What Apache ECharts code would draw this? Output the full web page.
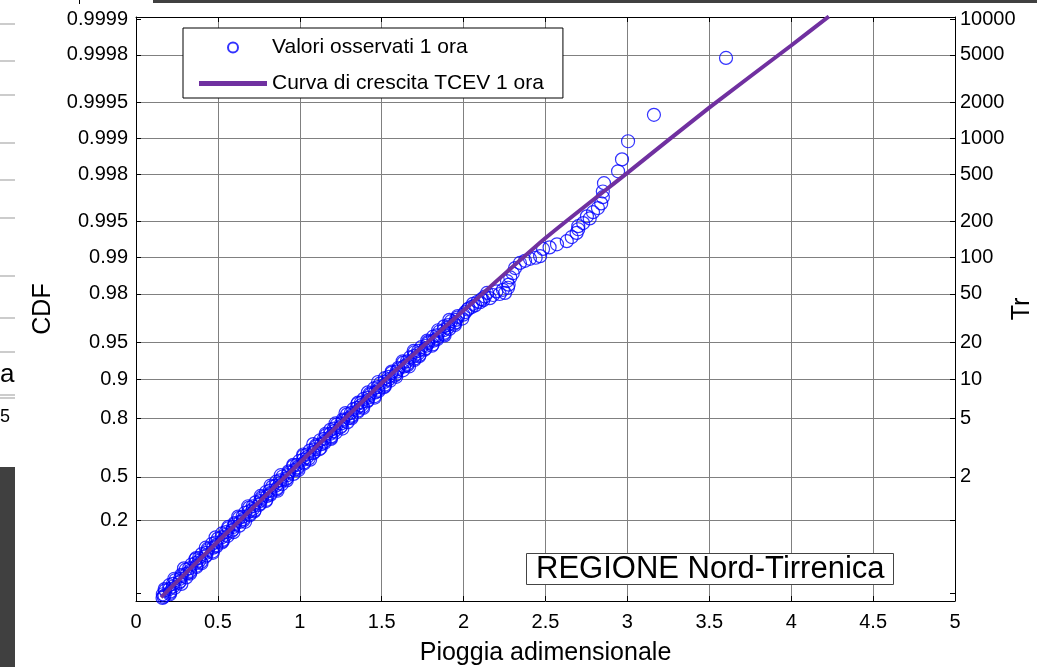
<!DOCTYPE html>
<html>
<head>
<meta charset="utf-8">
<title>TCEV Nord-Tirrenica</title>
<style>
  html, body { margin: 0; padding: 0; background: #fff; }
  #chart { width: 1037px; height: 667px; }
</style>
<script src="https://cdn.jsdelivr.net/npm/echarts@6.0.0/dist/echarts.min.js"></script>
</head>
<body>
<div id="chart"></div>
<script>
// tacche asse sinistro (CDF) e destro (Tr), stesse posizioni
var cdfTicks = [0.0015, 0.2, 0.5, 0.8, 0.9, 0.95, 0.98, 0.99, 0.995, 0.998, 0.999, 0.9995, 0.9998, 0.9999];
var cdfLabels = ['', '0.2', '0.5', '0.8', '0.9', '0.95', '0.98', '0.99', '0.995', '0.998', '0.999', '0.9995', '0.9998', '0.9999'];
var trLabels = ['', '', '2', '5', '10', '20', '50', '100', '200', '500', '1000', '2000', '5000', '10000'];
var gridCdf = [0.2, 0.5, 0.8, 0.9, 0.95, 0.98, 0.99, 0.995, 0.998, 0.999, 0.9995, 0.9998];

// curva di crescita TCEV: pioggia adimensionale / variabile ridotta di Gumbel
var tcevX = [0.153, 0.50, 1.00, 1.50, 2.00, 2.50, 3.00, 3.50, 4.00, 4.23];
var tcevY = [-1.96, -0.88, 0.64, 2.18, 3.58, 4.98, 6.24, 7.50, 8.70, 9.26];

var obsX = [
  0.162, 0.168, 0.164, 0.209, 0.203, 0.227, 0.225, 0.269, 0.269, 0.279, 0.311,
  0.329, 0.325, 0.369, 0.363, 0.387, 0.385, 0.429, 0.429, 0.439, 0.471,
  0.490, 0.486, 0.530, 0.524, 0.549, 0.548, 0.592, 0.593, 0.603, 0.636,
  0.654, 0.651, 0.695, 0.690, 0.715, 0.713, 0.758, 0.758, 0.769, 0.801,
  0.820, 0.816, 0.861, 0.855, 0.880, 0.879, 0.923, 0.924, 0.934, 0.967,
  0.985, 0.982, 1.027, 1.021, 1.045, 1.044, 1.088, 1.089, 1.099, 1.132,
  1.150, 1.147, 1.191, 1.186, 1.210, 1.208, 1.253, 1.253, 1.264, 1.296,
  1.315, 1.311, 1.356, 1.350, 1.374, 1.373, 1.417, 1.418, 1.428, 1.461,
  1.479, 1.476, 1.520, 1.516, 1.542, 1.542, 1.588, 1.591, 1.603, 1.637,
  1.657, 1.655, 1.701, 1.697, 1.723, 1.723, 1.769, 1.772, 1.784, 1.818,
  1.838, 1.836, 1.882, 1.878, 1.904, 1.905, 1.951, 1.953, 1.965, 1.999,
  2.010, 2.025, 2.050, 2.057, 2.085, 2.110, 2.130, 2.143, 2.180, 2.220,
  2.253, 2.271, 2.275, 2.265, 2.285, 2.300, 2.314, 2.344, 2.375, 2.405,
  2.440, 2.467, 2.485, 2.525, 2.570, 2.630, 2.660, 2.690, 2.700, 2.700,
  2.730, 2.770, 2.753, 2.790, 2.820, 2.840, 2.850, 2.850, 2.857, 2.943,
  2.967, 3.004, 3.162, 3.602,
  2.030, 2.070, 2.100, 2.160, 2.120, 2.200, 2.240
];
var obsY = [
  -1.97, -1.95, -1.90, -1.85, -1.80, -1.75, -1.70, -1.65, -1.60, -1.55, -1.50,
  -1.45, -1.40, -1.35, -1.30, -1.25, -1.20, -1.15, -1.10, -1.05, -1.00,
  -0.95, -0.90, -0.85, -0.80, -0.75, -0.70, -0.65, -0.60, -0.55, -0.50,
  -0.45, -0.40, -0.35, -0.30, -0.25, -0.20, -0.15, -0.10, -0.05, 0.00,
  0.05, 0.10, 0.15, 0.20, 0.25, 0.30, 0.35, 0.40, 0.45, 0.50,
  0.55, 0.60, 0.65, 0.70, 0.75, 0.80, 0.85, 0.90, 0.95, 1.00,
  1.05, 1.10, 1.15, 1.20, 1.25, 1.30, 1.35, 1.40, 1.45, 1.50,
  1.55, 1.60, 1.65, 1.70, 1.75, 1.80, 1.85, 1.90, 1.95, 2.00,
  2.05, 2.10, 2.15, 2.20, 2.25, 2.30, 2.35, 2.40, 2.45, 2.50,
  2.55, 2.60, 2.65, 2.70, 2.75, 2.80, 2.85, 2.90, 2.95, 3.00,
  3.05, 3.10, 3.15, 3.20, 3.25, 3.30, 3.35, 3.40, 3.45, 3.50,
  3.55, 3.60, 3.65, 3.71, 3.75, 3.80, 3.85, 3.92, 3.88, 3.90,
  3.92, 4.02, 4.08, 4.15, 4.22, 4.30, 4.40, 4.50, 4.54, 4.58,
  4.60, 4.63, 4.77, 4.80, 4.86, 4.92, 5.00, 5.08, 5.15, 5.21,
  5.27, 5.36, 5.40, 5.48, 5.56, 5.65, 5.77, 5.88, 6.04, 6.27,
  6.50, 6.85, 7.36, 8.46,
  3.62, 3.68, 3.74, 3.82, 3.78, 3.95, 3.98
];
// secondo strato della nuvola fitta (parte bassa)
var obsX2 = [
  0.174, 0.208, 0.179, 0.237, 0.203, 0.263, 0.241, 0.307, 0.277, 0.331,
  0.303, 0.369, 0.339, 0.397, 0.363, 0.423, 0.401, 0.467, 0.437, 0.491,
  0.464, 0.530, 0.500, 0.559, 0.525, 0.586, 0.564, 0.631, 0.602, 0.656,
  0.629, 0.695, 0.666, 0.724, 0.691, 0.751, 0.730, 0.796, 0.767, 0.821,
  0.794, 0.860, 0.831, 0.890, 0.856, 0.917, 0.895, 0.962, 0.932, 0.987,
  0.960, 1.026, 0.997, 1.055, 1.022, 1.082, 1.061, 1.127, 1.098, 1.152,
  1.124, 1.191, 1.161, 1.220, 1.186, 1.247, 1.225, 1.292, 1.262, 1.316,
  1.289, 1.355, 1.326, 1.384, 1.351, 1.411, 1.390, 1.456, 1.426, 1.481,
  1.453, 1.520, 1.491, 1.551, 1.519, 1.581, 1.561, 1.630, 1.602, 1.658,
  1.632, 1.700, 1.672, 1.732, 1.700, 1.762, 1.742, 1.811, 1.783, 1.839,
  1.813, 1.881, 1.853, 1.913, 1.881, 1.943, 1.923, 1.992, 1.964
];
var obsY2 = [
  -1.925, -1.875, -1.825, -1.775, -1.725, -1.675, -1.625, -1.575, -1.525, -1.475,
  -1.425, -1.375, -1.325, -1.275, -1.225, -1.175, -1.125, -1.075, -1.025, -0.975,
  -0.925, -0.875, -0.825, -0.775, -0.725, -0.675, -0.625, -0.575, -0.525, -0.475,
  -0.425, -0.375, -0.325, -0.275, -0.225, -0.175, -0.125, -0.075, -0.025, 0.025,
  0.075, 0.125, 0.175, 0.225, 0.275, 0.325, 0.375, 0.425, 0.475, 0.525,
  0.575, 0.625, 0.675, 0.725, 0.775, 0.825, 0.875, 0.925, 0.975, 1.025,
  1.075, 1.125, 1.175, 1.225, 1.275, 1.325, 1.375, 1.425, 1.475, 1.525,
  1.575, 1.625, 1.675, 1.725, 1.775, 1.825, 1.875, 1.925, 1.975, 2.025,
  2.075, 2.125, 2.175, 2.225, 2.275, 2.325, 2.375, 2.425, 2.475, 2.525,
  2.575, 2.625, 2.675, 2.725, 2.775, 2.825, 2.875, 2.925, 2.975, 3.025,
  3.075, 3.125, 3.175, 3.225, 3.275, 3.325, 3.375, 3.425, 3.475
];
// terzo strato, bordi della fascia
var obsX3 = [
  0.207, 0.175, 0.277, 0.234, 0.331, 0.293, 0.400, 0.367, 0.469, 0.426, 0.524,
  0.486, 0.595, 0.563, 0.666, 0.624, 0.722, 0.685, 0.793, 0.761, 0.864,
  0.822, 0.921, 0.884, 0.992, 0.960, 1.063, 1.021, 1.119, 1.082, 1.190,
  1.158, 1.260, 1.218, 1.316, 1.279, 1.387, 1.355, 1.458, 1.416, 1.514,
  1.478, 1.589, 1.561, 1.667, 1.628, 1.729, 1.695, 1.807, 1.778, 1.884,
  1.845, 1.947, 1.913
];
var obsY3 = [
  -1.90, -1.80, -1.70, -1.60, -1.50, -1.40, -1.30, -1.20, -1.10, -1.00, -0.90,
  -0.80, -0.70, -0.60, -0.50, -0.40, -0.30, -0.20, -0.10, 0.00, 0.10,
  0.20, 0.30, 0.40, 0.50, 0.60, 0.70, 0.80, 0.90, 1.00, 1.10,
  1.20, 1.30, 1.40, 1.50, 1.60, 1.70, 1.80, 1.90, 2.00, 2.10,
  2.20, 2.30, 2.40, 2.50, 2.60, 2.70, 2.80, 2.90, 3.00, 3.10,
  3.20, 3.30, 3.40
];

var FONT = "'Liberation Sans', Arial, sans-serif";

// carta probabilistica di Gumbel
function gumbel(F) { return -Math.log(-Math.log(F)); }
var yMin = -2.03;
var yMax = 9.25;
var tickPos = cdfTicks.map(gumbel);
var gridPos = gridCdf.map(gumbel);

function labelFor(list) {
    return function (v) {
        for (var i = 0; i < tickPos.length; i++) {
            if (Math.abs(tickPos[i] - v) < 1e-6) return list[i];
        }
        return '';
    };
}

function pairs(xs, ys) {
    return xs.map(function (x, i) { return [x, ys[i]]; });
}
var obsData = pairs(obsX, obsY).concat(pairs(obsX2, obsY2), pairs(obsX3, obsY3));
var tcevData = pairs(tcevX, tcevY);

var myChart = echarts.init(document.getElementById('chart'));

var option = {
    animation: false,
    backgroundColor: '#fff',
    textStyle: { fontFamily: FONT },
    grid: { left: 136, right: 82, top: 17, bottom: 66, outerBoundsMode: 'none', containLabel: false },
    title: {
        text: 'REGIONE Nord-Tirrenica',
        left: 526, top: 553,
        padding: [1, 9, 0, 10],
        borderColor: '#444', borderWidth: 1,
        backgroundColor: '#fff',
        textStyle: { fontSize: 31, fontWeight: 'normal', color: '#000', fontFamily: FONT }
    },
    legend: {
        orient: 'vertical',
        left: 183, top: 28,
        padding: [9, 19, 4, 16],
        itemGap: 15,
        itemWidth: 68, itemHeight: 10,
        borderColor: '#000', borderWidth: 1,
        backgroundColor: '#fff',
        textStyle: { fontSize: 21, color: '#000', fontFamily: FONT },
        data: [
            { name: 'Valori osservati 1 ora', icon: 'circle' },
            { name: 'Curva di crescita TCEV 1 ora', icon: 'path://M0,0H68V5H0Z', itemStyle: { color: '#7030a0' } }
        ]
    },
    xAxis: [{
        type: 'value', min: 0, max: 5, interval: 0.5,
        position: 'bottom',
        name: 'Pioggia adimensionale', nameLocation: 'middle', nameGap: 40, nameMoveOverlap: false,
        nameTextStyle: { fontSize: 25, color: '#000', fontFamily: FONT },
        axisLine: { show: true, onZero: false, lineStyle: { color: '#000', width: 1 } },
        axisTick: { show: true, inside: true, length: 5, lineStyle: { color: '#000' } },
        axisLabel: { color: '#000', fontSize: 20, margin: 11, fontFamily: FONT },
        splitLine: { show: true, lineStyle: { color: '#808080', width: 1 } }
    }, {
        type: 'value', min: 0, max: 5, interval: 0.5,
        position: 'top',
        axisLine: { show: true, onZero: false, lineStyle: { color: '#000', width: 1 } },
        axisTick: { show: true, inside: true, length: 5, lineStyle: { color: '#000' } },
        axisLabel: { show: false },
        splitLine: { show: false }
    }],
    yAxis: [{
        type: 'value', min: yMin, max: yMax, position: 'left',
        name: 'CDF', nameLocation: 'middle', nameGap: 80, nameRotate: 90, nameMoveOverlap: false,
        nameTextStyle: { fontSize: 25, color: '#000', fontFamily: FONT },
        axisLine: { show: true, onZero: false, lineStyle: { color: '#000', width: 1 } },
        axisTick: { show: true, inside: true, length: 5, customValues: tickPos, lineStyle: { color: '#000' } },
        axisLabel: { customValues: tickPos, formatter: labelFor(cdfLabels), color: '#000', fontSize: 20, margin: 8, fontFamily: FONT },
        splitLine: { show: false }
    }, {
        type: 'value', min: yMin, max: yMax, position: 'right',
        name: 'Tr', nameLocation: 'middle', nameGap: 55, nameRotate: 90, nameMoveOverlap: false,
        nameTextStyle: { fontSize: 25, color: '#000', fontFamily: FONT },
        axisLine: { show: true, onZero: false, lineStyle: { color: '#000', width: 1 } },
        axisTick: { show: true, inside: true, length: 5, customValues: tickPos, lineStyle: { color: '#000' } },
        axisLabel: { customValues: tickPos, formatter: labelFor(trLabels), color: '#000', fontSize: 20, margin: 5, fontFamily: FONT },
        splitLine: { show: false }
    }, {
        // solo griglia orizzontale
        type: 'value', min: yMin, max: yMax, position: 'left',
        axisLine: { show: false },
        axisTick: { show: false, customValues: gridPos },
        axisLabel: { show: false, customValues: gridPos },
        splitLine: { show: true, lineStyle: { color: '#808080', width: 1 } }
    }],
    series: [{
        name: 'Valori osservati 1 ora',
        type: 'scatter',
        data: obsData,
        symbol: 'circle',
        symbolSize: 13,
        itemStyle: { color: 'rgba(0,0,0,0)', borderColor: '#0000ff', borderWidth: 1.2 },
        emphasis: { disabled: true }
    }, {
        name: 'Curva di crescita TCEV 1 ora',
        type: 'line',
        data: tcevData,
        smooth: 0.2,
        symbol: 'none',
        showSymbol: false,
        lineStyle: { color: '#7030a0', width: 4 },
        itemStyle: { color: '#7030a0' },
        emphasis: { disabled: true }
    }],
    graphic: [
        // pezzi delle figure adiacenti tagliate
        { type: 'rect', shape: { x: 153, y: 0, width: 884, height: 3 }, style: { fill: '#404040' } },
        { type: 'rect', shape: { x: 0, y: 467, width: 15, height: 200 }, style: { fill: '#404040' } },
        { type: 'rect', shape: { x: 79, y: 0, width: 1, height: 4 }, style: { fill: '#000' } },
        { type: 'group', children: [24, 61, 95, 143, 180, 218, 276, 318, 352, 395, 398].map(function (y) {
            return { type: 'line', shape: { x1: 0, y1: y, x2: 15, y2: y }, style: { stroke: '#999', lineWidth: 1 } };
        }) },
        { type: 'text', x: 0, y: 362, style: { text: 'a', fontSize: 26, fill: '#000', fontFamily: FONT } },
        { type: 'text', x: 0, y: 408, style: { text: '5', fontSize: 18, fill: '#000', fontFamily: FONT } }
    ]
};

myChart.setOption(option);
window.addEventListener('resize', function () {
    myChart.resize();
});
</script>
</body>
</html>
